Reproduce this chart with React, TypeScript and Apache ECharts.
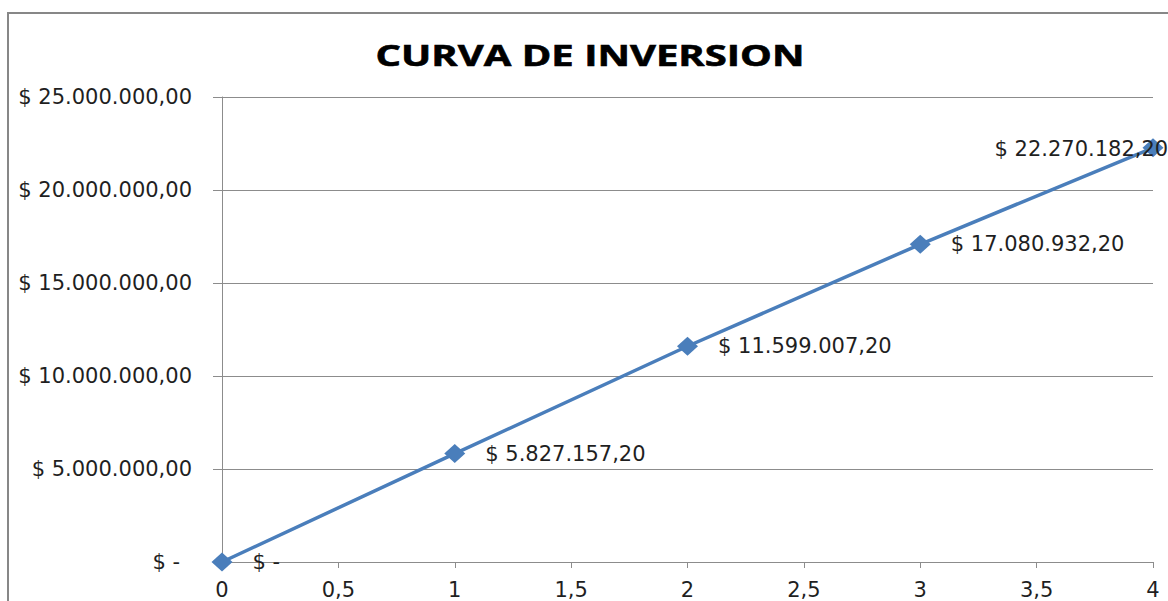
import React, { useEffect, useRef } from "react";
import * as echarts from "echarts";

const xValues = [0, 1, 2, 3, 4];
const investment = [0, 5827157.2, 11599007.2, 17080932.2, 22270182.2];
const yTicks = { min: 0, max: 25000000, interval: 5000000 };
const xTicks = { min: 0, max: 4, interval: 0.5 };
const titleText = "CURVA DE INVERSION";

const FONT = "DejaVu Sans";
const TEXT_COLOR = "#1f1f1f";

function money(v: number): string {
  if (v === 0) return "$ -";
  const fixed = v.toFixed(2);
  const [intPart, dec] = fixed.split(".");
  const withDots = intPart.replace(/\B(?=(\d{3})+(?!\d))/g, ".");
  return "$ " + withDots + "," + dec;
}

export default function App() {
  const ref = useRef<HTMLDivElement>(null);
  useEffect(() => {
    if (!ref.current) return;
    const chart = echarts.init(ref.current, undefined, { renderer: "svg" });
    const data = xValues.map((x, i) => {
      const item: any = { value: [x, investment[i]] };
      if (i === xValues.length - 1) {
        item.label = { offset: [-189, 1] };
      }
      return item;
    });
    chart.setOption({
      animation: false,
      backgroundColor: "#ffffff",
      graphic: [
        {
          type: "rect",
          shape: { x: 8, y: 13, width: 1300, height: 700 },
          style: { fill: "none", stroke: "#878787", lineWidth: 2 },
          silent: true,
        },
        {
          type: "text",
          x: 590,
          y: 55,
          scaleX: 1.38,
          style: {
            text: titleText,
            fontFamily: "Open Sans",
            fontWeight: "bold",
            fontSize: 29,
            fill: "#000000",
            stroke: "#000000",
            lineWidth: 0.6,
            textAlign: "center",
            textVerticalAlign: "middle",
          },
          silent: true,
        },
      ],
      grid: { left: 222, right: 15, top: 97, bottom: 39, containLabel: false },
      xAxis: {
        type: "value",
        min: xTicks.min,
        max: xTicks.max,
        interval: xTicks.interval,
        axisLine: { show: true, lineStyle: { color: "#8c8c8c", width: 1 } },
        axisTick: { show: true, length: 6, lineStyle: { color: "#8c8c8c" } },
        splitLine: { show: false },
        axisLabel: {
          margin: 17,
          fontFamily: FONT,
          fontSize: 21,
          color: TEXT_COLOR,
          formatter: (v: number) => String(v).replace(".", ","),
        },
      },
      yAxis: {
        type: "value",
        min: yTicks.min,
        max: yTicks.max,
        interval: yTicks.interval,
        axisLine: { show: true, lineStyle: { color: "#8c8c8c", width: 1 } },
        axisTick: { show: true, length: 9, lineStyle: { color: "#8c8c8c" } },
        splitLine: { show: true, lineStyle: { color: "#8c8c8c", width: 1 } },
        axisLabel: {
          margin: 30,
          fontFamily: FONT,
          fontSize: 21,
          color: TEXT_COLOR,
          formatter: (v: number) => (v === 0 ? "{z|$ -}" : money(v)),
          rich: {
            z: { fontFamily: FONT, fontSize: 21, color: TEXT_COLOR, padding: [0, 12, 0, 0] },
          },
        },
      },
      series: [
        {
          type: "line",
          data,
          symbol: "diamond",
          symbolSize: [21, 19],
          lineStyle: { color: "#4a7ebb", width: 3.5 },
          itemStyle: { color: "#4a7ebb" },
          clip: false,
          label: {
            show: true,
            position: "right",
            distance: 20,
            fontFamily: FONT,
            fontSize: 21,
            color: TEXT_COLOR,
            formatter: (p: any) => money(p.value[1]),
          },
        },
      ],
    });
    return () => chart.dispose();
  }, []);
  return (
    <div
      ref={ref}
      style={{ position: "fixed", left: 0, top: 0, width: 1168, height: 601 }}
    />
  );
}
